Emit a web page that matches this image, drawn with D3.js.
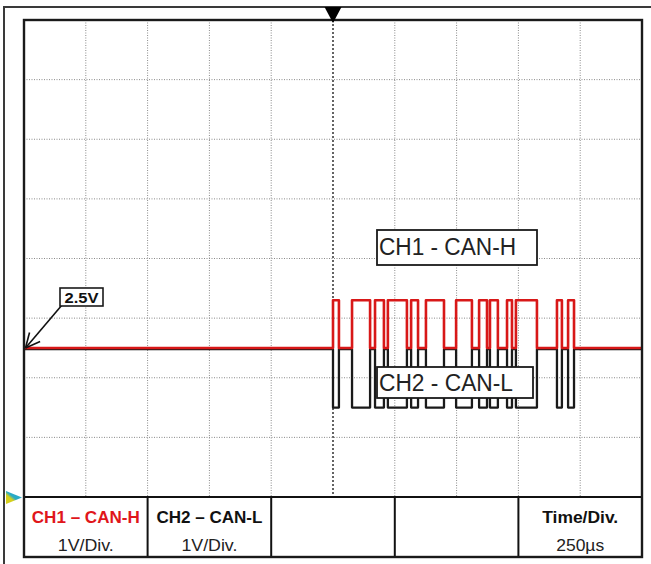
<!DOCTYPE html>
<html>
<head>
<meta charset="utf-8">
<script src="https://cdn.jsdelivr.net/npm/d3@7"></script>
<style>
  html, body { margin: 0; padding: 0; background: #fff; }
  svg { display: block; }
</style>
</head>
<body>
<svg id="chart" width="651" height="564"></svg>
<script>
// ---------- data ----------
const timePerDivUs = 250;          // µs per division
const timeDivisions = 10;
const voltPerDiv = 1;              // V per division
const voltDivisions = 8;
const recessiveVoltageH = 2.5;     // CAN-H idle level
const recessiveVoltageL = 2.48;    // CAN-L idle level
const dominantVoltageH = 3.3;      // CAN-H dominant level
const dominantVoltageL = 1.5;      // CAN-L dominant level
// dominant bit intervals [start µs, end µs]
const dominantStartUs = [1250, 1327, 1420, 1472, 1566, 1626, 1748, 1841, 1885, 1954, 1990, 2156, 2201];
const dominantEndUs   = [1274, 1400, 1456, 1549, 1594, 1699, 1812, 1873, 1917, 1974, 2075, 2176, 2225];
const triggerUs = 1250;
const refLabel = "2.5V";
const refVoltage = 2.5;
const channelLabels = ["CH1 - CAN-H", "CH2 - CAN-L"];
const tableTitles = ["CH1 – CAN-H", "CH2 – CAN-L", "", "", "Time/Div."];
const tableValues = ["1V/Div.", "1V/Div.", "", "", "250µs"];

// ---------- layout ----------
const svg = d3.select("#chart");
const plot = { left: 24, right: 642, top: 20, bottom: 497 };
const tableBottom = 557;
const FONT = "Liberation Sans, Arial, sans-serif";

const x = d3.scaleLinear().domain([0, timePerDivUs * timeDivisions]).range([plot.left, plot.right]);
const y = d3.scaleLinear().domain([0, voltPerDiv * voltDivisions]).range([plot.bottom, plot.top]);

const defs = svg.append("defs");
const grad = defs.append("linearGradient").attr("id", "gnd").attr("x1", "0").attr("y1", "1").attr("x2", "1").attr("y2", "0");
grad.append("stop").attr("offset", "0.35").attr("stop-color", "#d6cf1c");
grad.append("stop").attr("offset", "0.5").attr("stop-color", "#29aac6");

// outer frame
svg.append("rect").attr("x", 4).attr("y", 7).attr("width", 680).attr("height", 600)
  .attr("fill", "none").attr("stroke", "#3a3a3a").attr("stroke-width", 2);

// grid
const xTicks = d3.range(1, timeDivisions).map(i => i * timePerDivUs);
const yTicks = d3.range(1, voltDivisions).map(i => i * voltPerDiv);
const grid = svg.append("g");
grid.selectAll("line.v").data(xTicks).join("line")
  .attr("x1", d => x(d)).attr("x2", d => x(d))
  .attr("y1", plot.top).attr("y2", plot.bottom)
  .attr("stroke", d => d === triggerUs ? "#222" : "#8a8a8a")
  .attr("stroke-width", d => d === triggerUs ? 1.4 : 1)
  .attr("stroke-dasharray", d => d === triggerUs ? "2,2" : "1,1.5");
grid.selectAll("line.h").data(yTicks).join("line")
  .attr("x1", plot.left).attr("x2", plot.right)
  .attr("y1", d => y(d)).attr("y2", d => y(d))
  .attr("stroke", "#8a8a8a").attr("stroke-width", 1).attr("stroke-dasharray", "1,1.5");

// traces
function tracePoints(rec, dom) {
  const pts = [[0, rec]];
  dominantStartUs.forEach((s, i) => {
    const e = dominantEndUs[i];
    pts.push([s, rec], [s, dom], [e, dom], [e, rec]);
  });
  pts.push([timePerDivUs * timeDivisions, rec]);
  return pts;
}
const line = d3.line().x(d => x(d[0])).y(d => y(d[1]));
svg.append("path").attr("d", line(tracePoints(recessiveVoltageL, dominantVoltageL)))
  .attr("fill", "none").attr("stroke", "#1a1a1a").attr("stroke-width", 2.3)
  .attr("stroke-linejoin", "round");
svg.append("path").attr("d", line(tracePoints(recessiveVoltageH, dominantVoltageH)))
  .attr("fill", "none").attr("stroke", "#d81818").attr("stroke-width", 2.6)
  .attr("stroke-linejoin", "round");

// channel label boxes
const boxes = [
  { label: channelLabels[0], x0: 377, y0: 230, w: 160, h: 35, tx: 379, ty: 255, tl: 137 },
  { label: channelLabels[1], x0: 377, y0: 367, w: 156, h: 31, tx: 379, ty: 391, tl: 134 }
];
boxes.forEach(b => {
  svg.append("rect").attr("x", b.x0).attr("y", b.y0).attr("width", b.w).attr("height", b.h)
    .attr("fill", "#fff").attr("stroke", "#1a1a1a").attr("stroke-width", 1.8);
  svg.append("text").attr("x", b.tx).attr("y", b.ty).text(b.label)
    .attr("font-family", FONT).attr("font-size", 23)
    .attr("fill", "#222").attr("textLength", b.tl).attr("lengthAdjust", "spacingAndGlyphs");
});

// 2.5V reference marker
const tipX = x(0) + 1.5, tipY = y(refVoltage);
const tail = [62, 305];
svg.append("line").attr("x1", tail[0]).attr("y1", tail[1]).attr("x2", tipX).attr("y2", tipY)
  .attr("stroke", "#111").attr("stroke-width", 1.6);
const ang = Math.atan2(tail[1] - tipY, tail[0] - tipX);
[-0.45, 0.45].forEach(da => {
  svg.append("line").attr("x1", tipX).attr("y1", tipY)
    .attr("x2", tipX + 16 * Math.cos(ang + da)).attr("y2", tipY + 16 * Math.sin(ang + da))
    .attr("stroke", "#111").attr("stroke-width", 1.6);
});
svg.append("rect").attr("x", 60).attr("y", 288).attr("width", 43).attr("height", 18)
  .attr("fill", "#fff").attr("stroke", "#1a1a1a").attr("stroke-width", 1.6);
svg.append("text").attr("x", 81.5).attr("y", 303).attr("text-anchor", "middle").text(refLabel)
  .attr("font-family", FONT).attr("font-size", 15).attr("font-weight", "bold")
  .attr("fill", "#111").attr("textLength", 34).attr("lengthAdjust", "spacingAndGlyphs");

// info table
const colEdges = d3.range(0, timeDivisions + 1, 2).map(i => x(i * timePerDivUs));
const titleWidths = [108, 106, 0, 0, 76];
const valueWidths = [56, 56, 0, 0, 48];
const table = svg.append("g");
table.append("line").attr("x1", plot.left).attr("x2", plot.right).attr("y1", plot.bottom).attr("y2", plot.bottom)
  .attr("stroke", "#111").attr("stroke-width", 2.2);
table.selectAll("line.col").data(colEdges.slice(1, -1)).join("line")
  .attr("x1", d => d).attr("x2", d => d).attr("y1", plot.bottom).attr("y2", tableBottom)
  .attr("stroke", "#111").attr("stroke-width", 2);
tableTitles.forEach((t, i) => {
  const cx = (colEdges[i] + colEdges[i + 1]) / 2;
  if (t) {
    table.append("text").attr("x", cx).attr("y", 523).attr("text-anchor", "middle").text(t)
      .attr("font-family", FONT).attr("font-size", 16).attr("font-weight", "bold")
      .attr("fill", i === 0 ? "#e0161b" : "#111")
      .attr("textLength", titleWidths[i]).attr("lengthAdjust", "spacingAndGlyphs");
  }
  if (tableValues[i]) {
    table.append("text").attr("x", cx).attr("y", 551).attr("text-anchor", "middle").text(tableValues[i])
      .attr("font-family", FONT).attr("font-size", 16)
      .attr("fill", "#222")
      .attr("textLength", valueWidths[i]).attr("lengthAdjust", "spacingAndGlyphs");
  }
});

// inner frame
svg.append("rect").attr("x", plot.left).attr("y", plot.top)
  .attr("width", plot.right - plot.left).attr("height", tableBottom - plot.top)
  .attr("fill", "none").attr("stroke", "#1a1a1a").attr("stroke-width", 2.4);

// trigger marker
const tx = x(triggerUs);
svg.append("path").attr("d", `M${tx - 8.5},7 L${tx + 8.5},7 L${tx},23 Z`).attr("fill", "#000");

// ground marker
svg.append("path").attr("d", `M6,491 L22,497.5 L6,504 Z`).attr("fill", "url(#gnd)");
</script>
</body>
</html>
